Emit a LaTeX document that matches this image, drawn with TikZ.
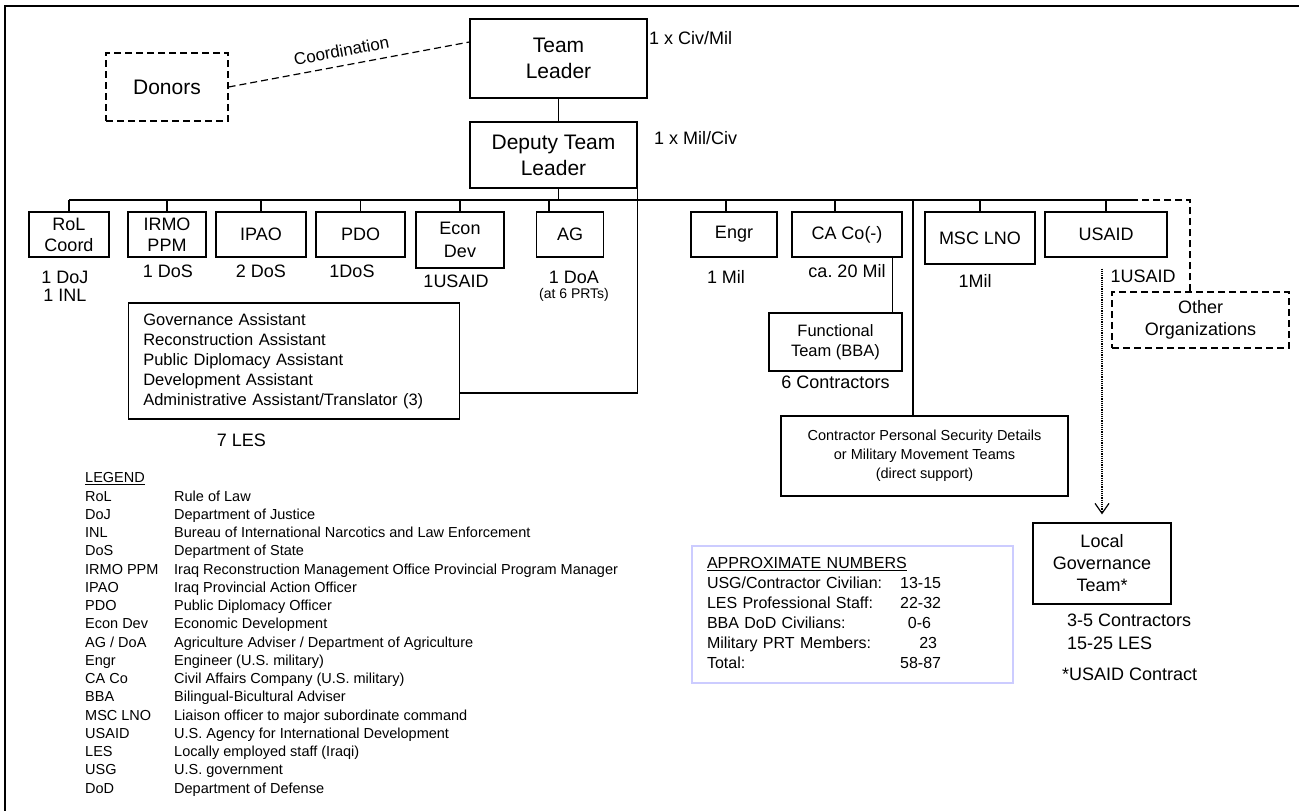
\documentclass[tikz,border=0pt]{standalone}
\usepackage{fontspec}
\setmainfont{Liberation Sans}
\usepackage{tikz}
\usetikzlibrary{arrows.meta}
\definecolor{lavender}{RGB}{204,204,255}
\tikzstyle{lead} = [rectangle, draw=black, line width=1.2pt, text centered, align=center, inner sep=0pt, font=\fontsize{21}{26}\selectfont]
\tikzstyle{unit} = [lead, font=\fontsize{18}{21}\selectfont]
\tikzstyle{outside} = [lead, dash pattern=on 7pt off 4pt]
\tikzstyle{count} = [inner sep=0pt, align=center, font=\fontsize{18}{18}\selectfont]
\tikzstyle{link} = [line width=1.2pt]
\tikzstyle{loose} = [link, dash pattern=on 7pt off 4pt]

\begin{document}
\begin{tikzpicture}[x=1pt, y=1pt, node distance=10pt]
\useasboundingbox (0,0) rectangle (1299,-811);
\draw [line width=2pt] (5,-811) -- (5,-6) -- (1299,-6);

% Leaders
\node (teamleader) [lead, minimum width=177pt, minimum height=79pt] at (558.5,-58.5) {Team\\Leader};
\node (deputy) [lead, minimum width=167pt, minimum height=66pt, below of=teamleader, xshift=-5pt, yshift=-86.5pt] {Deputy Team\\Leader};
\node (donors) [outside, minimum width=122pt, minimum height=68pt, left of=teamleader, xshift=-381.5pt, yshift=-28.5pt] {Donors};
\node (civmil) [count, right of=teamleader, anchor=west, xshift=80.5pt, yshift=20.5pt] {1 x Civ/Mil};
\node (milciv) [count, right of=deputy, anchor=west, xshift=90.5pt, yshift=17pt] {1 x Mil/Civ};

% Sections
\node (rol) [unit, minimum width=80pt, minimum height=45pt, below of=deputy, xshift=-484.5pt, yshift=-69.5pt] {RoL\\Coord};
\node (irmo) [unit, minimum width=78pt, minimum height=45pt, right of=rol, xshift=88pt] {IRMO\\PPM};
\node (ipao) [unit, minimum width=90pt, minimum height=45pt, right of=irmo, xshift=84pt] {IPAO};
\node (pdo) [unit, minimum width=89pt, minimum height=45pt, right of=ipao, xshift=89.5pt] {PDO};
\node (econ) [unit, font=\fontsize{18}{23}\selectfont, minimum width=88pt, minimum height=56pt, right of=pdo, xshift=89.5pt, yshift=-5.5pt] {Econ\\Dev};
\node (ag) [unit, minimum width=67pt, minimum height=45pt, right of=econ, xshift=100pt, yshift=5.5pt] {AG};
\node (engr) [unit, minimum width=86pt, minimum height=45pt, right of=ag, xshift=154pt] {Engr};
\node (caco) [unit, minimum width=110pt, minimum height=45pt, right of=engr, xshift=103pt] {CA Co(-)};
\node (msc) [unit, minimum width=110pt, minimum height=52pt, right of=caco, xshift=123pt, yshift=-3.5pt] {MSC LNO};
\node (usaid) [unit, minimum width=122pt, minimum height=45pt, right of=msc, xshift=116pt, yshift=3.5pt] {USAID};

% Staff counts
\node (rolnum) [count, below of=rol, xshift=-4pt, yshift=-41.5pt] {1 DoJ\\1 INL};
\node (irmonum) [count, below of=irmo, xshift=1pt, yshift=-26.5pt] {1 DoS};
\node (ipaonum) [count, below of=ipao, yshift=-26.5pt] {2 DoS};
\node (pdonum) [count, below of=pdo, xshift=-8.5pt, yshift=-26.5pt] {1DoS};
\node (econnum) [count, below of=econ, xshift=-4pt, yshift=-31pt] {1USAID};
\node (agnum) [count, below of=ag, xshift=4pt, yshift=-32.5pt] {1 DoA};
\node (agnote) [count, font=\fontsize{14}{16}\selectfont, below of=agnum, yshift=-8pt] {(at 6 PRTs)};
\node (engrnum) [count, below of=engr, xshift=-8pt, yshift=-32.5pt] {1 Mil};
\node (caconum) [count, below of=caco, yshift=-26.5pt] {ca.\ 20 Mil};
\node (mscnum) [count, below of=msc, xshift=-5pt, yshift=-33pt] {1Mil};
\node (usaidnum) [count, below of=usaid, xshift=37pt, yshift=-31.5pt] {1USAID};

% Lower boxes
\node (les) [unit, text width=302pt, inner xsep=14.5pt, minimum height=116pt, align=left, font=\fontsize{16.5}{20}\selectfont, below of=ipao, xshift=33.3pt, yshift=-116.5pt] {Governance Assistant\\Reconstruction Assistant\\Public Diplomacy Assistant\\Development Assistant\\Administrative Assistant/Translator (3)};
\node (lesnum) [count, below of=les, xshift=-53pt, yshift=-69pt] {7 LES};
\node (functional) [unit, font=\fontsize{16.5}{20}\selectfont, minimum width=133pt, minimum height=58pt, below of=caco, xshift=-11.5pt, yshift=-97.5pt] {Functional\\Team (BBA)};
\node (ftnum) [count, below of=functional, yshift=-30pt] {6 Contractors};
\node (security) [unit, font=\fontsize{14.5}{19}\selectfont, minimum width=287pt, minimum height=80pt, below of=functional, xshift=89pt, yshift=-104pt] {Contractor Personal Security Details\\or Military Movement Teams\\(direct support)};
\node (other) [outside, font=\fontsize{18}{22}\selectfont, minimum width=177pt, minimum height=56pt, below of=usaid, xshift=94.5pt, yshift=-75.5pt] {Other\\Organizations};
\node (lgt) [unit, font=\fontsize{18}{22}\selectfont, minimum width=138pt, minimum height=81pt, below of=usaid, xshift=-4pt, yshift=-319pt] {Local\\Governance\\Team*};
\node (lgtnum) [count, align=left, font=\fontsize{18}{23}\selectfont, below of=lgt, anchor=west, xshift=-35pt, yshift=-58pt] {3-5 Contractors\\15-25 LES};
\node (contract) [count, below of=lgt, anchor=west, xshift=-40pt, yshift=-100.5pt] {*USAID Contract};

% Totals and legend
\node (numbers) [draw=lavender, line width=1.5pt, text width=291pt, inner xsep=15pt, minimum height=137pt, align=left, font=\fontsize{16}{20}\selectfont, left of=lgt, xshift=-239.5pt, yshift=-51pt] {\begin{tabular}{@{}l@{\hspace{18pt}}r@{}}
\multicolumn{2}{@{}l}{\underline{APPROXIMATE NUMBERS}}\\
USG/Contractor Civilian: & 13-15\\
LES Professional Staff: & 22-32\\
BBA DoD Civilians: & 0-6\makebox[10pt]{}\\
Military PRT Members: & 23\makebox[4pt]{}\\
Total: & 58-87
\end{tabular}};
\node (legend) [inner sep=0pt, anchor=north west, font=\fontsize{14.5}{18.24}\selectfont] at (85,-470) {\begin{tabular}{@{}p{89pt}@{}l@{}}
\underline{LEGEND} & \\
RoL & Rule of Law\\
DoJ & Department of Justice\\
INL & Bureau of International Narcotics and Law Enforcement\\
DoS & Department of State\\
IRMO PPM & Iraq Reconstruction Management Office Provincial Program Manager\\
IPAO & Iraq Provincial Action Officer\\
PDO & Public Diplomacy Officer\\
Econ Dev & Economic Development\\
AG / DoA & Agriculture Adviser / Department of Agriculture\\
Engr & Engineer (U.S. military)\\
CA Co & Civil Affairs Company (U.S. military)\\
BBA & Bilingual-Bicultural Adviser\\
MSC LNO & Liaison officer to major subordinate command\\
USAID & U.S. Agency for International Development\\
LES & Locally employed staff (Iraqi)\\
USG & U.S. government\\
DoD & Department of Defense
\end{tabular}};

% Connectors
\coordinate (bus) at (0,-200);
\draw [loose] (donors.east) -- node[pos=0.48, sloped, above, inner sep=8pt, font=\fontsize{17}{17}\selectfont] {Coordination} ([yshift=16.5pt]teamleader.west);
\draw [link] (teamleader.south) -- (teamleader.south |- deputy.north);
\draw [link] (teamleader.south |- deputy.south) -- (teamleader.south |- bus);
\draw [link] (rol.north |- bus) -- ([xshift=27pt]usaid.north |- bus);
\draw [link] (rol.north) -- (rol.north |- bus);
\draw [link] (irmo.north) -- (irmo.north |- bus);
\draw [link] (ipao.north) -- (ipao.north |- bus);
\draw [link] (pdo.north) -- (pdo.north |- bus);
\draw [link] (econ.north) -- (econ.north |- bus);
\draw [link] ([xshift=-21pt]ag.north) -- ([xshift=-21pt]ag.north |- bus);
\draw [link] ([xshift=-8pt]engr.north) -- ([xshift=-8pt]engr.north |- bus);
\draw [link] ([xshift=-12pt]caco.north) -- ([xshift=-12pt]caco.north |- bus);
\draw [link] (msc.north) -- (msc.north |- bus);
\draw [link] (usaid.north) -- (usaid.north |- bus);
\draw [link] ([yshift=-32pt]les.east) -| (deputy.south east);
\draw [link] ([xshift=-10pt]caco.south east) -- ([xshift=-10pt]functional.north east);
\draw [link] ([xshift=-11.5pt]security.north) -- ([xshift=-11.5pt]security.north |- bus);
\draw [loose] ([xshift=-10.5pt]other.north) |- ([xshift=-27pt]usaid.north |- bus);
\draw [link, densely dotted, -{Straight Barb[length=10pt, width=14pt]}, shorten <=11pt, shorten >=8pt] (usaid.south -| lgt.north) -- (lgt.north);

\end{tikzpicture}
\end{document}
